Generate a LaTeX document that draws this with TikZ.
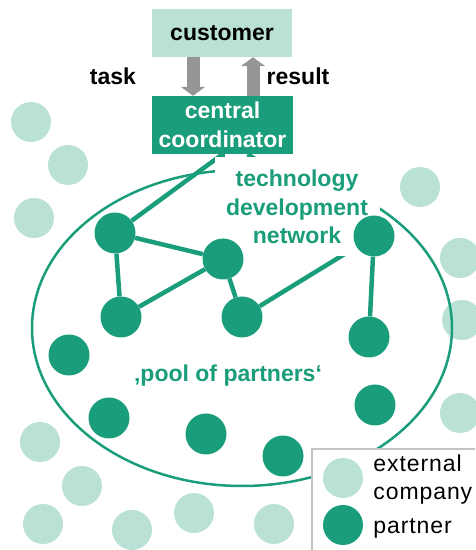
\documentclass[tikz,border=0pt]{standalone}
\usepackage{fontspec}
\setmainfont{Liberation Sans}
\newfontfamily\legendfont[LetterSpace=4]{Liberation Sans}
\usetikzlibrary{arrows.meta,positioning}
\definecolor{netgreen}{RGB}{26,157,122}
\definecolor{mint}{RGB}{185,225,214}
\definecolor{arrowgray}{RGB}{150,150,150}
\definecolor{framegray}{RGB}{195,195,195}
\pgfdeclarelayer{bg}
\pgfdeclarelayer{links}
\pgfdeclarelayer{label}
\pgfsetlayers{bg,links,label,main}
\tikzset{
  partner/.style={circle, fill=netgreen, minimum size=41pt, inner sep=0pt},
  extern/.style={circle, fill=mint, minimum size=40pt, inner sep=0pt},
  link/.style={netgreen, line width=4.5pt},
  bigtext/.style={font=\fontsize{23}{28.5}\selectfont\bfseries},
  legtext/.style={font=\legendfont\fontsize{23}{28}\selectfont, inner sep=0pt, align=left},
  blockarrow/.style={arrowgray, line width=13pt, -{Triangle[width=24pt,length=9pt]}}
}
\begin{document}
\begin{tikzpicture}[x=1pt,y=1pt]
 \useasboundingbox (0,0) rectangle (475,550);
 \clip (0,0) rectangle (475,550);
 % customer and coordinator
 \node[bigtext, fill=mint, minimum width=140pt, minimum height=48pt] (customer) at (222,517) {customer};
 \node[bigtext, fill=netgreen, text=white, align=center, inner sep=0pt,
       minimum width=141pt, minimum height=58pt] (coord) at (222.5,425) {central\\coordinator};
 \draw[blockarrow] ([xshift=-29pt]customer.south) -- ([xshift=-29.5pt]coord.north);
 \draw[blockarrow] ([xshift=30.5pt]coord.north) -- ([xshift=31pt]customer.south);
 \node[bigtext, anchor=base] (task) at (113,465) {task};
 \node[bigtext, anchor=base] (result) at (298,465) {result};
 % external companies and the pool
 \begin{pgfonlayer}{bg}
  \foreach \x/\y [count=\i] in {31/428, 68/385, 34/332, 420/363, 460/292, 462/230, 460/137,
                                40/108, 82/64, 43/26, 132/20, 194/37, 274/26}
   \node[extern] (ext\i) at (\x,\y) {};
  \draw[netgreen, line width=2.5pt] (242,222) ellipse [x radius=210pt, y radius=158pt];
 \end{pgfonlayer}
 % partners
 \node[partner] (pa) at (115,317) {};
 \node[partner] (pb) at (223,291) {};
 \node[partner] (pc) at (121,233) {};
 \node[partner] (pd) at (242,233) {};
 \node[partner] (pe) at (374,314) {};
 \node[partner] (pf) at (369,213) {};
 \node[partner] (pg) at (69,195) {};
 \node[partner] (ph) at (109,132) {};
 \node[partner] (pi) at (206,116) {};
 \node[partner] (pj) at (283,94) {};
 \node[partner] (pk) at (375,145) {};
 % network links
 \begin{pgfonlayer}{links}
  \draw[link] (coord.south) -- (pa);
  \draw[link] (coord.south) -- (pb);
  \draw[link] ([xshift=25pt]coord.south) -- (pe);
  \draw[link] (pa) -- (pb);
  \draw[link] (pa) -- (pc);
  \draw[link] (pc) -- (pb);
  \draw[link] (pb) -- (pd);
  \draw[link] (pd) -- (pe);
  \draw[link] (pe) -- (pf);
 \end{pgfonlayer}
 \begin{pgfonlayer}{label}
  \node[bigtext, text=netgreen, fill=white, align=center, inner sep=0pt,
        minimum width=165pt, minimum height=99pt] (tdn) at (297,343)
        {technology\\development\\network};
 \end{pgfonlayer}
 \node[bigtext, text=netgreen, anchor=base] (pool) at (228,168) {‚pool of partners‘};
 % legend
 \draw[framegray, line width=1.5pt, fill=white] (312,101) rectangle (490,-10);
 \node[extern] (legext) at (343,72) {};
 \node[partner, minimum size=40pt] (legpart) at (343,25) {};
 \node[legtext, right=10pt of legext, yshift=-2pt] (legexttext) {external\\company};
 \node[legtext, right=10pt of legpart, yshift=-3pt] (legparttext) {partner};
\end{tikzpicture}
\end{document}
